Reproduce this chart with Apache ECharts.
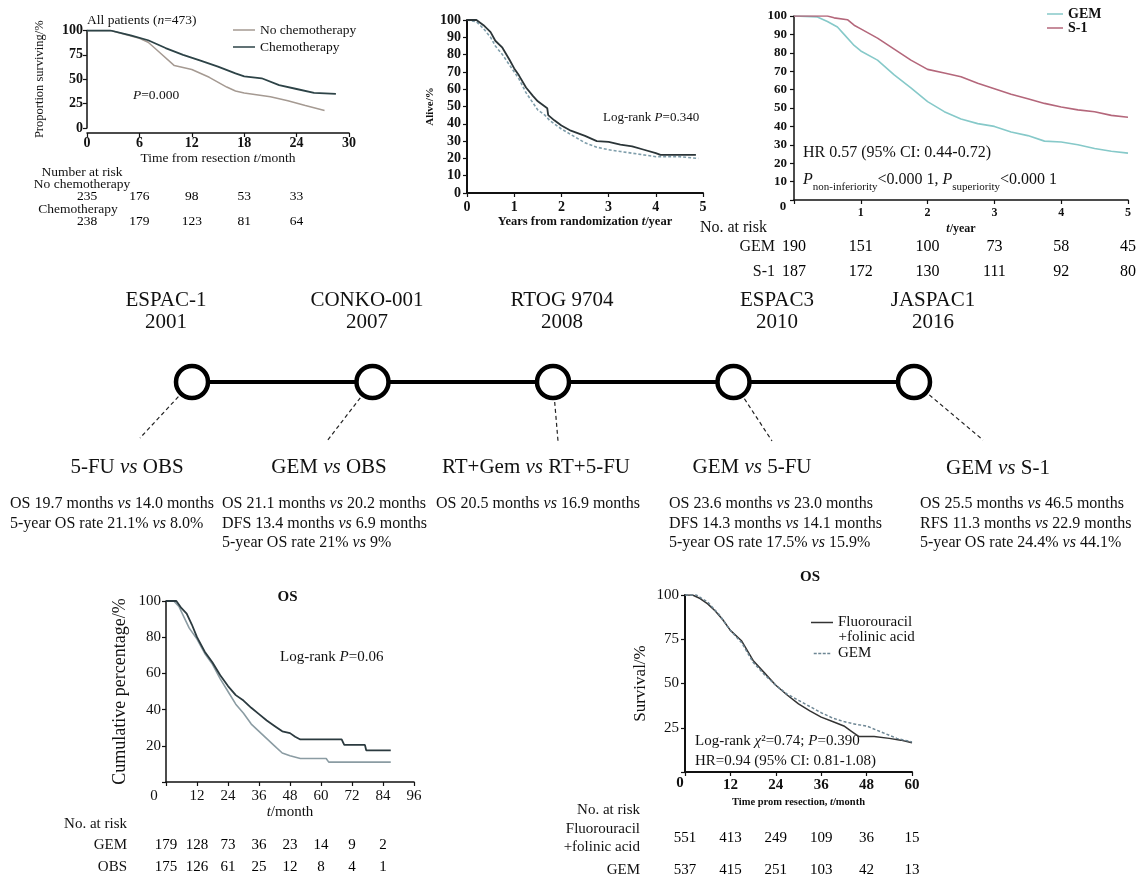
<!DOCTYPE html>
<html>
<head>
<meta charset="utf-8">
<script src="https://cdn.jsdelivr.net/npm/echarts@6/dist/echarts.min.js"></script>
<style>
  html, body { margin: 0; padding: 0; background: #fff; }
  #main { width: 1142px; height: 879px; }
</style>
</head>
<body>
<div id="main"></div>
<script>
// ---------- data ----------
// ESPAC-1 (months, % surviving)
var espac1NoChemo = [[0,100],[2.7,100],[6,92],[7,88],[8,80],[10,64],[12,60],[14,52],[16,42],[17,38],[18,36],[21,32],[23,28],[25,23],[27.2,18]];
var espac1Chemo = [[0,100],[2.7,100],[5,95],[7,90],[9,82],[11,75],[13,69],[15,63],[17,56],[18,53],[20,51],[22,44],[24,40],[26,36],[28.5,35]];
var espac1RiskTimes = [0, 6, 12, 18, 24];
var espac1RiskRows = ['No chemotherapy', 'Chemotherapy'];
var espac1RiskNoChemo = [235, 176, 98, 53, 33];
var espac1RiskChemo = [238, 179, 123, 81, 64];

// RTOG 9704 (years, % alive)
var rtogSolid = [[0,100],[0.2,100],[0.35,97],[0.5,93],[0.6,88],[0.75,84],[0.9,77],[1,72],[1.1,68],[1.25,61],[1.4,56],[1.5,53],[1.65,50],[1.7,49],[1.72,45],[1.85,42],[2,39],[2.2,36],[2.5,33],[2.75,30],[3,29.5],[3.25,28],[3.5,27],[3.75,25],[4,23],[4.1,22],[4.85,22]];
var rtogDashed = [[0,100],[0.2,99],[0.35,95],[0.5,90],[0.6,85],[0.75,80],[0.9,74],[1,70],[1.1,66],[1.25,58],[1.4,52],[1.5,48],[1.65,45],[1.75,42],[2,37],[2.25,33],[2.5,29],[2.75,26.5],[3,25],[3.25,24],[3.5,23],[4,21],[4.5,21],[4.9,20]];

// JASPAC 01 (years, %)
var jaspacGem = [[0,100],[0.35,99.5],[0.5,97],[0.65,94],[0.75,90],[0.9,84],[1,81],[1.25,76],[1.5,68],[1.75,61],[2,53.5],[2.25,48],[2.5,44],[2.75,41.5],[3,40],[3.25,37],[3.5,35],[3.75,32],[4,31.5],[4.25,30],[4.5,28],[4.75,26.5],[5,25.5]];
var jaspacS1 = [[0,100],[0.5,100],[0.6,99],[0.8,98],[0.9,95],[1,93],[1.25,88],[1.5,82],[1.75,76],[2,71],[2.25,69],[2.5,67],[2.75,63.5],[3,60.5],[3.25,57.5],[3.5,55],[3.75,52.5],[4,50.5],[4.25,49],[4.5,48],[4.75,46],[5,45]];
var jaspacRiskTimes = [0, 1, 2, 3, 4, 5];
var jaspacRiskRows = ['GEM', 'S-1'];
var jaspacRiskGem = [190, 151, 100, 73, 58, 45];
var jaspacRiskS1 = [187, 172, 130, 111, 92, 80];

// CONKO-001 (months, cumulative %)
var conkoGem = [[0,100],[4,100],[6,96],[8,93],[10,87],[12,80],[15,72],[18,66],[21,59],[24,53],[27,48],[30,45],[33,41],[36,37.5],[39,34],[42,31],[45,28],[48,27],[50,25],[52,23.5],[68,23.5],[69,20.5],[77,20.5],[77.5,17.5],[87,17.5]];
var conkoObs = [[0,100],[3,100],[5,97],[7,91],[9,85],[12,79],[15,71],[18,65],[21,57],[24,50],[27,43],[30,38],[33,32],[36,28],[39,24],[42,20],[45,16],[48,14.5],[52,13],[62,13],[63,11],[87,11]];
var conkoRiskTimes = [0, 12, 24, 36, 48, 60, 72, 84];
var conkoRiskRows = ['GEM', 'OBS'];
var conkoRiskGem = [179, 128, 73, 36, 23, 14, 9, 2];
var conkoRiskObs = [175, 126, 61, 25, 12, 8, 4, 1];

// ESPAC-3 (months, survival %)
var espac3Fu = [[0,100],[2,100],[4,98],[6,95],[8,91],[10,86],[12,80],[15,74],[18,63],[21,56],[24,49],[27,43.5],[30,38.5],[33,34.5],[36,31],[39,28.5],[42,26],[44,23],[46,20],[50,20],[54,19],[57,18],[60,16.5]];
var espac3Gem = [[0,100],[3,100],[6,96],[9,89],[12,80],[15,73],[18,62],[21,55],[24,49],[27,44],[30,40.5],[33,37],[36,33.5],[39,30.5],[42,28.5],[45,27],[48,26],[52,22.5],[56,19],[60,17]];
var espac3RiskTimes = [0, 12, 24, 36, 48, 60];
var espac3RiskRows = ['Fluorouracil\n+folinic acid', 'GEM'];
var espac3RiskFu = [551, 413, 249, 109, 36, 15];
var espac3RiskGem = [537, 415, 251, 103, 42, 13];

// timeline
var trials = ['ESPAC-1', 'CONKO-001', 'RTOG 9704', 'ESPAC3', 'JASPAC1'];
var trialYears = ['2001', '2007', '2008', '2010', '2016'];
var comparisons = ['5-FU vs OBS', 'GEM vs OBS', 'RT+Gem vs RT+5-FU', 'GEM vs 5-FU', 'GEM vs S-1'];
var results = [
  ['OS 19.7 months vs 14.0 months', '5-year OS rate 21.1% vs 8.0%'],
  ['OS 21.1 months vs 20.2 months', 'DFS 13.4 months vs 6.9 months', '5-year OS rate 21% vs 9%'],
  ['OS 20.5 months vs 16.9 months'],
  ['OS 23.6 months vs 23.0 months', 'DFS 14.3 months vs 14.1 months', '5-year OS rate 17.5% vs 15.9%'],
  ['OS 25.5 months vs 46.5 months', 'RFS 11.3 months vs 22.9 months', '5-year OS rate 24.4% vs 44.1%']
];

// ---------- layout ----------
var FONT = "'Liberation Serif', 'Times New Roman', serif";
var INK = '#111';
var headerX = [166, 367, 562, 777, 933];
var compX = [127, 329, 536, 752, 998];
var resultX = [10, 222, 436, 669, 920];
var connectorEnds = [[140, 438], [327, 441], [558, 441], [772, 441], [983, 440]];
var DASH_ICON = 'path://M0,0h4v2h-4zM6,0h4v2h-4zM12,0h4v2h-4zM18,0h4v2h-4z';

var myChart = echarts.init(document.getElementById('main'));

function axis(grid, min, max, step, o) {
  o = o || {};
  var ns = o.nameStyle || {};
  return {
    type: 'value', gridIndex: grid, min: min, max: max, interval: step,
    offset: o.offset || 0,
    name: o.name || '', nameLocation: 'middle', nameGap: o.nameGap || 20,
    nameTextStyle: Object.assign({ color: INK, fontFamily: FONT, fontSize: 13,
      rich: { i: { fontStyle: 'italic', fontFamily: FONT, fontSize: ns.fontSize || 13, fontWeight: ns.fontWeight || 'normal' } } }, ns),
    axisLine: { show: true, onZero: false, lineStyle: { color: INK, width: o.lineWidth || 1.5 } },
    axisTick: { show: true, length: o.tick || 4, lineStyle: { color: INK, width: 1.2 } },
    axisLabel: {
      color: INK, fontFamily: FONT, fontSize: o.fontSize || 13,
      fontWeight: o.bold ? 'bold' : 'normal', margin: o.margin || 4,
      showMinLabel: true, showMaxLabel: true,
      formatter: function (v) { return (o.hideZero && v === 0) ? '' : String(v); }
    },
    splitLine: { show: false }
  };
}
function hiddenAxis(grid, min, max) {
  return { type: 'value', gridIndex: grid, min: min, max: max, show: false };
}
function rowAxis(grid, rows, o) {
  o = o || {};
  return {
    type: 'category', gridIndex: grid, data: rows, inverse: true,
    axisLine: { show: false }, axisTick: { show: false }, splitLine: { show: false },
    axisLabel: { show: !o.hide, color: INK, fontFamily: FONT, fontSize: o.fontSize || 15, margin: o.margin || 10, lineHeight: o.lineHeight || 18, align: 'right' }
  };
}
function km(name, axisIdx, data, color, width, dashed) {
  return {
    name: name, type: 'line', xAxisIndex: axisIdx, yAxisIndex: axisIdx,
    data: data, symbol: 'none', showSymbol: false, silent: true,
    itemStyle: { color: color },
    lineStyle: { color: color, width: width, type: dashed ? [3, 2] : 'solid' }
  };
}
function risk(name, axisIdx, times, rows, counts, fontSize) {
  var data = [];
  rows.forEach(function (r, j) {
    times.forEach(function (t, i) { data.push([t, r, counts[j][i]]); });
  });
  return {
    name: name, type: 'scatter', xAxisIndex: axisIdx, yAxisIndex: axisIdx,
    symbolSize: 1, itemStyle: { color: '#fff', opacity: 1 }, silent: true, z: 3,
    label: { show: true, position: 'inside', color: '#000', opacity: 1, textBorderWidth: 0, fontFamily: FONT, fontSize: fontSize,
      formatter: function (p) { return String(p.value[2]); } },
    data: data
  };
}
function txt(x, y, s, o) {
  o = o || {};
  var fs = o.fontSize || 15;
  return {
    type: 'text', x: x, y: y, silent: true,
    style: {
      text: s, fill: INK, fontFamily: FONT, fontSize: fs,
      fontWeight: o.bold ? 'bold' : 'normal',
      align: o.align || 'left', textAlign: o.align || 'left',
      verticalAlign: o.va || 'middle', textVerticalAlign: o.va || 'middle',
      lineHeight: o.lineHeight,
      rich: o.rich || { i: { fontStyle: 'italic', fontFamily: FONT, fontSize: fs, lineHeight: o.lineHeight } }
    }
  };
}
function italVs(s) { return s.replace(' vs ', ' {i|vs} '); }

var option = {
  animation: false,
  backgroundColor: '#fff',
  textStyle: { fontFamily: FONT },
  grid: [
    { left: 87, top: 30.5, width: 262, height: 97.5 },     // 0 ESPAC-1
    { left: 87, top: 183.5, width: 262, height: 50 },      // 1 ESPAC-1 risk
    { left: 467, top: 20, width: 236, height: 173 },       // 2 RTOG
    { left: 794, top: 16, width: 334, height: 184 },       // 3 JASPAC
    { left: 794, top: 234.5, width: 334, height: 50 },     // 4 JASPAC risk
    { left: 166, top: 601, width: 248, height: 181 },      // 5 CONKO
    { left: 166, top: 834, width: 248, height: 44 },       // 6 CONKO risk
    { left: 685, top: 595, width: 227, height: 177 },      // 7 ESPAC3
    { left: 685, top: 822.75, width: 227, height: 63 },    // 8 ESPAC3 risk
    { left: 192, top: 362, width: 722, height: 40 }        // 9 timeline
  ].map(function (g) { g.containLabel = false; g.outerBoundsMode = 'none'; return g; }),
  xAxis: [
    axis(0, 0, 30, 6, { offset: 5, fontSize: 14, bold: true, margin: 3, name: 'Time from resection {i|t}/month', nameGap: 18, nameStyle: { fontSize: 13.5 } }),
    hiddenAxis(1, 0, 30),
    axis(2, 0, 5, 1, { fontSize: 14, bold: true, margin: 7, lineWidth: 2, name: 'Years from randomization {i|t}/year', nameGap: 20, nameStyle: { fontSize: 12.5, fontWeight: 'bold' } }),
    axis(3, 0, 5, 1, { fontSize: 12, bold: true, margin: 7, hideZero: true, name: '{i|t}/year', nameGap: 23, nameStyle: { fontSize: 12, fontWeight: 'bold' } }),
    hiddenAxis(4, 0, 5),
    axis(5, 0, 96, 12, { fontSize: 15, margin: 7, hideZero: true, name: '{i|t}/month', nameGap: 23, nameStyle: { fontSize: 15 } }),
    hiddenAxis(6, 0, 96),
    axis(7, 0, 60, 12, { fontSize: 15, bold: true, margin: 6, lineWidth: 2, hideZero: true, name: 'Time prom resection, {i|t}/month', nameGap: 25, nameStyle: { fontSize: 10.5, fontWeight: 'bold' } }),
    hiddenAxis(8, 0, 60),
    { type: 'category', gridIndex: 9, data: trials, boundaryGap: false, show: false }
  ],
  yAxis: [
    axis(0, 0, 100, 25, { fontSize: 14, bold: true, name: 'Proportion surviving/%', nameGap: 41, nameStyle: { fontSize: 12.5 } }),
    rowAxis(1, espac1RiskRows, { hide: true }),
    axis(2, 0, 100, 10, { fontSize: 14, bold: true, margin: 6, lineWidth: 2, name: 'Alive/%', nameGap: 29, nameStyle: { fontSize: 11, fontWeight: 'bold' } }),
    axis(3, 0, 100, 10, { fontSize: 13, bold: true, margin: 7, hideZero: true }),
    rowAxis(4, jaspacRiskRows, { fontSize: 16, margin: 19 }),
    axis(5, 0, 100, 20, { fontSize: 15, margin: 5, hideZero: true, name: 'Cumulative percentage/%', nameGap: 37, nameStyle: { fontSize: 18 } }),
    rowAxis(6, conkoRiskRows, { fontSize: 15, margin: 39 }),
    axis(7, 0, 100, 25, { fontSize: 15, margin: 6, lineWidth: 2, hideZero: true, name: 'Survival/%', nameGap: 36, nameStyle: { fontSize: 17 } }),
    rowAxis(8, espac3RiskRows, { fontSize: 15, margin: 45, lineHeight: 18 }),
    { type: 'value', gridIndex: 9, min: -1, max: 1, show: false }
  ],
  legend: [
    { data: [{ name: 'No chemotherapy', icon: 'rect' }, { name: 'Chemotherapy', icon: 'rect' }],
      orient: 'vertical', left: 233, top: 23, itemWidth: 22, itemHeight: 1.5, itemGap: 3, padding: 0, selectedMode: false,
      textStyle: { fontFamily: FONT, fontSize: 13.5, color: INK, lineHeight: 14 } },
    { data: [{ name: 'GEM', icon: 'rect' }, { name: 'S-1', icon: 'rect' }],
      orient: 'vertical', left: 1047, top: 7, itemWidth: 16, itemHeight: 1.5, itemGap: 0, padding: 0, selectedMode: false,
      textStyle: { fontFamily: FONT, fontSize: 14, fontWeight: 'bold', color: INK, lineHeight: 12 } },
    { data: [{ name: 'Fluorouracil+folinic acid', icon: 'rect' }, { name: 'GEM ', icon: DASH_ICON }],
      orient: 'vertical', left: 811, top: 615, itemWidth: 22, itemHeight: 1.5, itemGap: 16, padding: 0, selectedMode: false,
      formatter: function (n) { return n === 'GEM ' ? 'GEM' : 'Fluorouracil'; },
      textStyle: { fontFamily: FONT, fontSize: 15, color: INK, lineHeight: 15 } }
  ],
  series: [
    km('No chemotherapy', 0, espac1NoChemo, '#a59a92', 1.5),
    km('Chemotherapy', 0, espac1Chemo, '#2d4347', 1.8),
    risk('risk-espac1', 1, espac1RiskTimes, espac1RiskRows, [espac1RiskNoChemo, espac1RiskChemo], 13.5),
    km('RT+5-FU', 2, rtogDashed, '#7f9eab', 1.6, true),
    km('RT+Gem', 2, rtogSolid, '#2b3538', 1.8),
    km('GEM', 3, jaspacGem, '#86c9c9', 1.6),
    km('S-1', 3, jaspacS1, '#b4677b', 1.6),
    risk('risk-jaspac', 4, jaspacRiskTimes, jaspacRiskRows, [jaspacRiskGem, jaspacRiskS1], 16),
    km('OBS (CONKO-001)', 5, conkoObs, '#8b9ca3', 1.6),
    km('GEM (CONKO-001)', 5, conkoGem, '#2b3a3f', 1.8),
    risk('risk-conko', 6, conkoRiskTimes, conkoRiskRows, [conkoRiskGem, conkoRiskObs], 15),
    km('Fluorouracil+folinic acid', 7, espac3Fu, '#333', 1.5),
    km('GEM ', 7, espac3Gem, '#6d8694', 1.5, true),
    risk('risk-espac3', 8, espac3RiskTimes, espac3RiskRows, [espac3RiskFu, espac3RiskGem], 15),
    {
      name: 'timeline', type: 'line', xAxisIndex: 9, yAxisIndex: 9, silent: true,
      data: trials.map(function () { return 0; }),
      symbol: 'circle', symbolSize: 32, showSymbol: true,
      itemStyle: { color: '#fff', borderColor: '#000', borderWidth: 4.5 },
      lineStyle: { color: '#000', width: 4 }, z: 5
    }
  ]
};

myChart.setOption(option);
window.addEventListener('resize', function () { myChart.resize(); });

// text annotations
var g = [];
g.push(txt(87, 20, 'All patients ({i|n}=473)', { fontSize: 13.5 }));
g.push(txt(133, 95, '{i|P}=0.000', { fontSize: 13.5 }));
g.push(txt(82, 172, 'Number at risk', { fontSize: 13.5, align: 'center' }));
g.push(txt(82, 184, espac1RiskRows[0], { fontSize: 13.5, align: 'center' }));
g.push(txt(78, 209, espac1RiskRows[1], { fontSize: 13.5, align: 'center' }));
g.push(txt(603, 117.7, 'Log-rank {i|P}=0.340', { fontSize: 13 }));
g.push(txt(803, 153, 'HR 0.57 (95% CI: 0.44-0.72)', { fontSize: 16 }));
g.push(txt(803, 180, '{m|P}{s|non-inferiority}{n|<0.000 1, }{m|P}{s|superiority}{n|<0.000 1}', {
  fontSize: 16,
  rich: {
    m: { fontStyle: 'italic', fontFamily: FONT, fontSize: 16, lineHeight: 26, verticalAlign: 'middle' },
    n: { fontFamily: FONT, fontSize: 16, lineHeight: 26, verticalAlign: 'middle' },
    s: { fontFamily: FONT, fontSize: 11, lineHeight: 11, verticalAlign: 'bottom' }
  }
}));
g.push(txt(783, 207, '0', { fontSize: 13, bold: true, align: 'center' }));
g.push(txt(767, 228, 'No. at risk', { fontSize: 16, align: 'right' }));
g.push(txt(287.5, 597, 'OS', { fontSize: 15, bold: true, align: 'center' }));
g.push(txt(280, 657, 'Log-rank {i|P}=0.06', { fontSize: 15 }));
g.push(txt(154, 796, '0', { fontSize: 15, align: 'center' }));
g.push(txt(127, 824, 'No. at risk', { fontSize: 15, align: 'right' }));
g.push(txt(810, 577, 'OS', { fontSize: 15, bold: true, align: 'center' }));
g.push(txt(838.5, 637.3, '+folinic acid', { fontSize: 15 }));
g.push(txt(695, 741, 'Log-rank {i|χ}²=0.74; {i|P}=0.390', { fontSize: 15 }));
g.push(txt(695, 761, 'HR=0.94 (95% CI: 0.81-1.08)', { fontSize: 15 }));
g.push(txt(680, 783, '0', { fontSize: 15, bold: true, align: 'center' }));
g.push(txt(640, 810, 'No. at risk', { fontSize: 15, align: 'right' }));

trials.forEach(function (t, i) {
  g.push(txt(headerX[i], 311, t + '\n' + trialYears[i], { fontSize: 21, align: 'center', lineHeight: 22 }));
  g.push(txt(compX[i], i === 4 ? 468 : 467, italVs(comparisons[i]), { fontSize: 21, align: 'center' }));
  g.push(txt(resultX[i], 494.25, results[i].map(italVs).join('\n'), { fontSize: 16, va: 'top', lineHeight: 19.5 }));
  // dashed connector from the circle (placed by the category axis) to the comparison label
  var c = myChart.convertToPixel({ gridIndex: 9 }, [i, 0]);
  var e = connectorEnds[i];
  var dx = e[0] - c[0], dy = e[1] - c[1], L = Math.sqrt(dx * dx + dy * dy);
  g.push({
    type: 'line', silent: true,
    shape: { x1: c[0] + dx / L * 20, y1: c[1] + dy / L * 20, x2: e[0], y2: e[1] },
    style: { stroke: '#222', lineWidth: 1.2, lineDash: [4, 3] }
  });
});

myChart.setOption({ graphic: { elements: g } });
</script>
</body>
</html>
